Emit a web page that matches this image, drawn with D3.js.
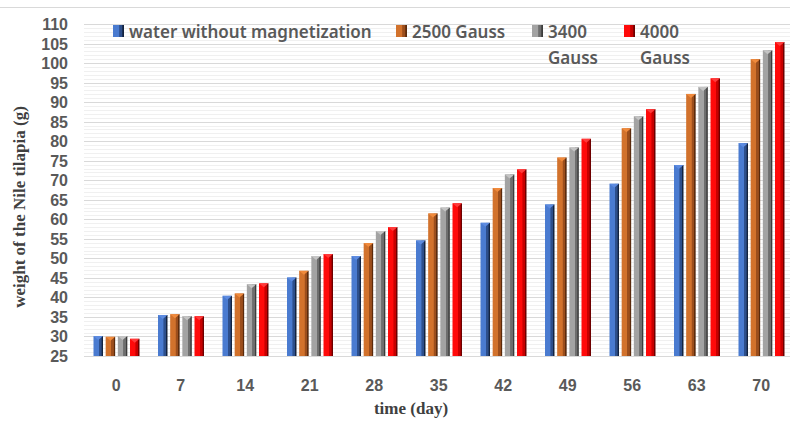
<!DOCTYPE html>
<html lang="en">
<head>
  <meta charset="utf-8">
  <title>Weight of the Nile tilapia</title>
  <script src="https://d3js.org/d3.v7.min.js"></script>
  <style>
    body {
      margin: 0;
      background: #fff;
    }
    svg {
      display: block;
    }
  </style>
</head>
<body>
  <svg id="chart"></svg>

  <script>
    // данные
    const days = [0, 7, 14, 21, 28, 35, 42, 49, 56, 63, 70];
    const water = [30.1, 35.5, 40.4, 45.1, 50.6, 54.6, 59.1, 63.8, 69.1, 73.9, 79.5];
    const gauss2500 = [29.9, 35.7, 41.0, 46.8, 53.9, 61.5, 68.0, 75.8, 83.3, 92.1, 101.0];
    const gauss3400 = [30.1, 35.2, 43.4, 50.6, 57.0, 63.0, 71.5, 78.4, 86.4, 93.9, 103.3];
    const gauss4000 = [29.4, 35.2, 43.6, 51.1, 58.0, 64.1, 72.8, 80.6, 88.2, 96.1, 105.4];
    const seriesNames = ["water without magnetization", "2500 Gauss", "3400 Gauss", "4000 Gauss"];
    const yTicks = d3.range(25, 111, 5);

    const W = 790, H = 423;
    const svg = d3.select("#chart")
      .attr("width", W)
      .attr("height", H);

    const series = [
      { name: seriesNames[0], values: water, light: "#4a7bd0", dark: "#2d4f8c", edge: "#13233f", cap: "#5d8be0" },
      { name: seriesNames[1], values: gauss2500, light: "#d2722c", dark: "#9c4e1c", edge: "#5a2a0c", cap: "#f08a3c" },
      { name: seriesNames[2], values: gauss3400, light: "#a3a3a3", dark: "#6e6e6e", edge: "#3c3c3c", cap: "#c4c4c4" },
      { name: seriesNames[3], values: gauss4000, light: "#ff0a0a", dark: "#c80000", edge: "#6e0000", cap: "#ff3a3a" }
    ];

    // градиенты для "объёмных" столбиков
    const defs = svg.append("defs");
    series.forEach((s, i) => {
      const grad = defs.append("linearGradient")
        .attr("id", "g" + i)
        .attr("x1", "0").attr("x2", "1").attr("y1", "0").attr("y2", "0");
      [[0, s.light], [0.55, s.light], [0.6, s.dark], [0.82, s.dark], [0.88, s.edge], [1, s.edge]]
        .forEach(([o, c]) => grad.append("stop").attr("offset", o).attr("stop-color", c));
    });

    const y = d3.scaleLinear().domain([25, 110]).range([356, 24]);
    const x = d3.scaleBand().domain(days).range([84, 793.5]);
    const xs = d3.scaleBand().domain(d3.range(series.length)).range([9.5, 55.5]).paddingInner(0.22);

    // рамка сверху
    svg.append("line")
      .attr("x1", 0).attr("x2", W).attr("y1", 7.5).attr("y2", 7.5)
      .attr("stroke", "#d9d9d9");

    // сетка: мелкая и основная
    svg.append("g")
      .selectAll("line")
      .data(d3.range(25, 110, 1).filter(v => v % 5 !== 0))
      .join("line")
      .attr("x1", 84).attr("x2", W)
      .attr("y1", d => Math.round(y(d)) + 0.5)
      .attr("y2", d => Math.round(y(d)) + 0.5)
      .attr("stroke", "#f0f0f0");

    svg.append("g")
      .selectAll("line")
      .data(yTicks)
      .join("line")
      .attr("x1", 84).attr("x2", W)
      .attr("y1", d => Math.round(y(d)) + 0.5)
      .attr("y2", d => Math.round(y(d)) + 0.5)
      .attr("stroke", "#d9d9d9");

    // столбики
    const groups = svg.append("g")
      .selectAll("g")
      .data(series)
      .join("g");

    groups.each(function (s, si) {
      const g = d3.select(this);
      g.selectAll("rect")
        .data(s.values)
        .join("rect")
        .attr("x", (d, i) => x(days[i]) + xs(si))
        .attr("y", d => y(d))
        .attr("width", xs.bandwidth())
        .attr("height", d => y(25) - y(d))
        .attr("fill", "url(#g" + si + ")");
      g.selectAll("path")
        .data(s.values)
        .join("path")
        .attr("d", (d, i) => {
          const x0 = x(days[i]) + xs(si), w = xs.bandwidth(), t = y(d);
          return `M${x0},${t}L${x0 + w},${t}L${x0 + w / 2},${t + 4}Z`;
        })
        .attr("fill", s.cap);
    });

    // ось X
    svg.append("line")
      .attr("x1", 84).attr("x2", W)
      .attr("y1", 356.5).attr("y2", 356.5)
      .attr("stroke", "#d9d9d9");

    const axisFont = "'Noto Sans', sans-serif";
    const tickFont = "'Liberation Sans', Arial, sans-serif";

    svg.append("g")
      .selectAll("text")
      .data(days)
      .join("text")
      .attr("x", d => x(d) + x.bandwidth() / 2)
      .attr("y", 391)
      .attr("text-anchor", "middle")
      .attr("font-family", tickFont)
      .attr("font-size", 16)
      .attr("font-weight", "bold")
      .attr("fill", "#595959")
      .text(d => d);

    svg.append("g")
      .selectAll("text")
      .data(yTicks)
      .join("text")
      .attr("x", 68)
      .attr("y", d => y(d) + 6)
      .attr("text-anchor", "end")
      .attr("font-family", tickFont)
      .attr("font-size", 16)
      .attr("font-weight", "bold")
      .attr("fill", "#595959")
      .text(d => d);

    // подписи осей
    svg.append("text")
      .attr("x", 411)
      .attr("y", 414)
      .attr("text-anchor", "middle")
      .attr("font-family", "'Liberation Serif', serif")
      .attr("font-weight", "bold")
      .attr("font-size", 17)
      .attr("fill", "#404040")
      .text("time (day)");

    svg.append("text")
      .attr("transform", "translate(25,207) rotate(-90)")
      .attr("text-anchor", "middle")
      .attr("font-family", "'Liberation Serif', serif")
      .attr("font-weight", "bold")
      .attr("font-size", 17)
      .attr("fill", "#404040")
      .text("weight of the Nile tilapia (g)");

    // легенда
    const legend = [
      { lines: ["water without magnetization"], x: 113 },
      { lines: ["2500 Gauss"], x: 396 },
      { lines: ["3400", "Gauss"], x: 532 },
      { lines: ["4000", "Gauss"], x: 624 }
    ];
    legend.forEach((l, i) => {
      svg.append("rect")
        .attr("x", l.x).attr("y", 25)
        .attr("width", 11).attr("height", 12)
        .attr("fill", "url(#g" + i + ")");
      const t = svg.append("text")
        .attr("x", l.x + 16)
        .attr("y", 38)
        .attr("font-family", axisFont)
        .attr("font-size", 17)
        .attr("font-weight", 600)
        .attr("fill", "#595959");
      l.lines.forEach((line, k) => {
        t.append("tspan")
          .attr("x", l.x + 16)
          .attr("dy", k === 0 ? 0 : 26)
          .text(line);
      });
    });
  </script>
</body>
</html>
